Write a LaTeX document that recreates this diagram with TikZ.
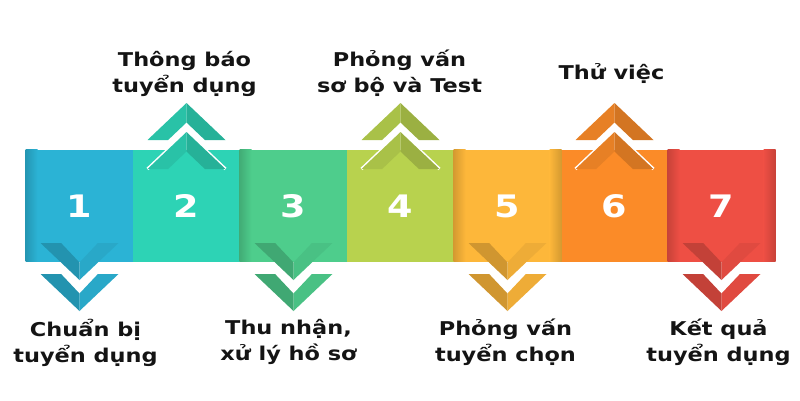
\documentclass[tikz,border=0pt]{standalone}
\usepackage{fontspec}
\setmainfont{DejaVu Sans}[FakeStretch=1.18]
\usetikzlibrary{positioning}
\definecolor{stepA}{HTML}{2BB3D5}
\definecolor{stepB}{HTML}{2DD3B5}
\definecolor{stepC}{HTML}{4ECD8C}
\definecolor{stepD}{HTML}{B8D24E}
\definecolor{stepE}{HTML}{FDB73A}
\definecolor{stepF}{HTML}{FB8B28}
\definecolor{stepG}{HTML}{EE4F44}
\tikzset{
  stepbox/.style={minimum width=107.6pt, minimum height=112pt, inner sep=0pt,
    text=white, font=\fontsize{31}{31}\selectfont\bfseries},
  steplabel/.style={align=center, inner sep=0pt, text=black!92,
    font=\fontsize{19}{26}\selectfont\bfseries},
  chevhalo/.style={white, line width=3pt, line join=miter},
}
\begin{document}
\begin{tikzpicture}[x=1pt,y=-1pt]
     		\newcommand{\chevronup}[2][0]{%
     		  \draw[chevhalo, opacity=#1] (-39,37)--(0,0)--(39,37);
     		  \fill[#2!92!black] (0,0)--(0,19.5)--(-18.4,37)--(-39,37)--cycle;
     		  \fill[#2!84!black] (0,0)--(0,19.5)--(18.4,37)--(39,37)--cycle;}
     		\newcommand{\chevrondown}[2][0]{%
     		  \draw[chevhalo, opacity=#1] (-39,0)--(-18.4,0)--(0,19.5)--(18.4,0)--(39,0);
     		  \fill[#2!82!black] (0,37)--(0,19.5)--(-18.4,0)--(-39,0)--cycle;
     		  \fill[#2!94!black] (0,37)--(0,19.5)--(18.4,0)--(39,0)--cycle;}
     		\useasboundingbox (0,0) rectangle (800,400);
     		\foreach \i/\col in {1/stepA,2/stepB,3/stepC,4/stepD,5/stepE,6/stepF,7/stepG}
     		  \node[stepbox, fill=\col] (b\i) at ({26+107*(\i-0.5)},206) {\i};
     		\foreach \i/\col in {1/stepA,3/stepC,5/stepE,7/stepG}
     		  \shade[left color=\col!84!black, right color=\col] (b\i.north west) rectangle ++(12,112);
     		\foreach \i/\col in {5/stepE,7/stepG}
     		  \shade[left color=\col, right color=\col!84!black] (b\i.north east) rectangle ++(-12,112);
     		\foreach \i/\col in {2/stepB,4/stepD,6/stepF}{
     		  \begin{scope}[shift={({26+107*(\i-0.5)},103)}] \chevronup{\col} \end{scope}
     		  \begin{scope}[shift={({26+107*(\i-0.5)},132)}] \chevronup[1]{\col} \end{scope}}
     		\foreach \i/\col in {1/stepA,3/stepC,5/stepE,7/stepG}{
     		  \begin{scope}[shift={({26+107*(\i-0.5)},243)}] \chevrondown{\col} \end{scope}
     		  \begin{scope}[shift={({26+107*(\i-0.5)},274)}] \chevrondown[1]{\col} \end{scope}}
     		\node[steplabel, below=57pt of b1, xshift=6pt] (t1) {Chuẩn bị\\tuyển dụng};
     		\node[steplabel, above=53.5pt of b2, xshift=-2pt] (t2) {Thông báo\\tuyển dụng};
     		\node[steplabel, below=57pt of b3, xshift=-5pt] (t3) {Thu nhận,\\xử lý hồ sơ};
     		\node[steplabel, above=53.5pt of b4, xshift=-1pt] (t4) {Phỏng vấn\\sơ bộ và Test};
     		\node[steplabel, below=57pt of b5, xshift=-2pt] (t5) {Phỏng vấn\\tuyển chọn};
     		\node[steplabel, above=66pt of b6, xshift=-3pt] (t6) {Thử việc};
     		\node[steplabel, below=57pt of b7, xshift=-3pt] (t7) {Kết quả\\tuyển dụng};
\end{tikzpicture}
\end{document}
